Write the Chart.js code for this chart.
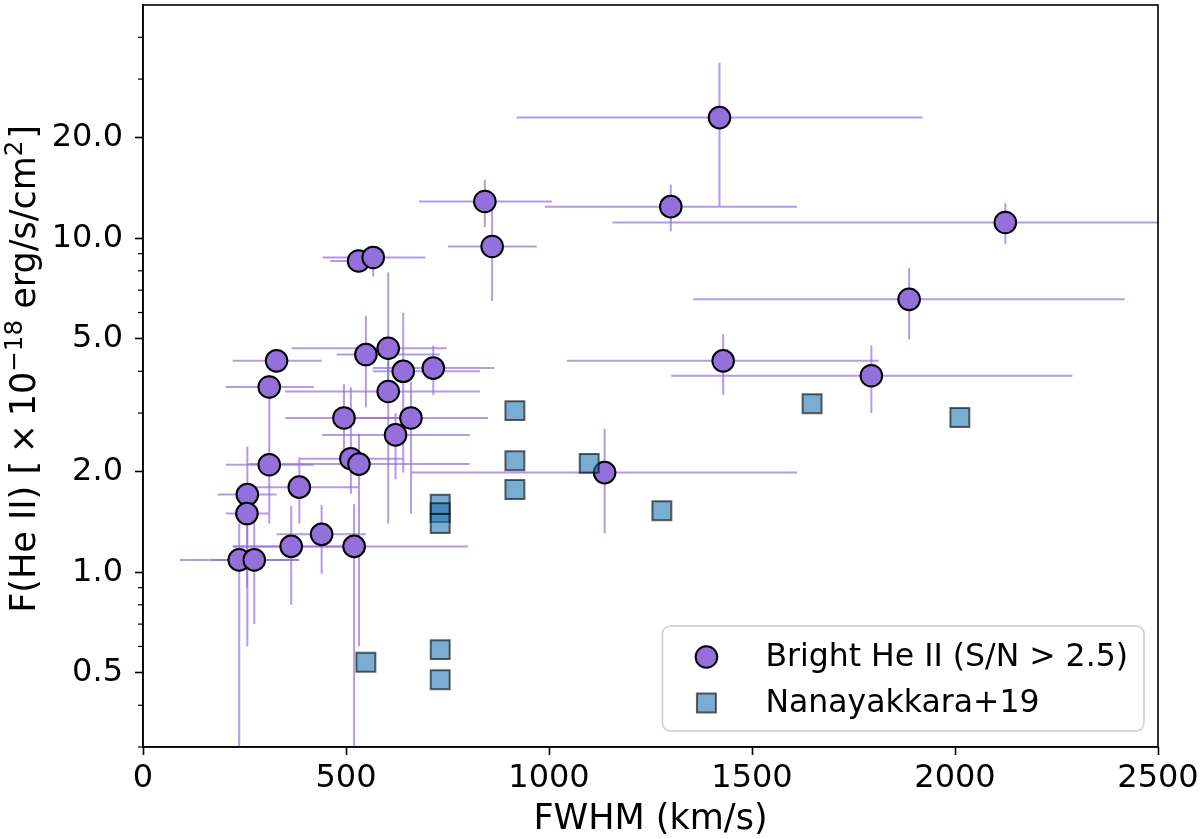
<!DOCTYPE html>
<html>
<head>
<meta charset="utf-8">
<script src="https://cdn.jsdelivr.net/npm/chart.js@4.4.1/dist/chart.umd.min.js"></script>
<style>
html,body{margin:0;padding:0;background:#ffffff;}
#wrap{width:1200px;height:839px;position:relative;}
</style>
</head>
<body>
<div id="wrap"><canvas id="c" width="1200" height="839"></canvas></div>
<script>
// ---- Data: Bright He II (S/N > 2.5) ----
const brightFwhm   = [1420, 842, 860, 1300, 2124, 1887, 1429, 1794, 1137, 531, 567, 329, 311, 311, 549, 604, 641, 604, 715, 495, 660, 622, 512, 532, 257, 385, 256, 237, 274, 365, 440, 520];
const brightFlux   = [23.0, 12.9, 9.46, 12.45, 11.16, 6.57, 4.30, 3.88, 1.99, 8.56, 8.77, 4.30, 3.59, 2.10, 4.49, 4.69, 4.00, 3.48, 4.09, 2.90, 2.90, 2.58, 2.19, 2.11, 1.71, 1.80, 1.50, 1.09, 1.09, 1.196, 1.30, 1.196];
const brightFwhmLo = [920, 680, 751, 990, 1156, 1355, 1044, 1301, 662, 461, 442, 221, 204, 204, 477, 366, 566, 350, 566, 350, 470, 441, 387, 260, 184, 276, 204, 91, 167, 221, 329, 222];
const brightFwhmHi = [1920, 1007, 970, 1611, 3090, 2418, 1812, 2289, 1611, 559, 696, 440, 421, 421, 731, 748, 830, 830, 865, 640, 850, 805, 640, 805, 329, 530, 309, 383, 385, 509, 549, 800];
const brightFluxLo = [12.5, 10.8, 6.5, 10.5, 9.62, 4.98, 3.40, 3.00, 1.31, 8.23, 7.70, 4.05, 3.30, 1.40, 3.12, 3.27, 1.99, 1.40, 3.40, 2.20, 1.50, 1.90, 1.72, 0.60, 0.60, 1.40, 0.90, 0.20, 0.70, 0.80, 0.99, 0.20];
const brightFluxHi = [33.6, 15.0, 12.3, 14.5, 12.76, 8.15, 5.17, 4.78, 2.69, 8.88, 9.46, 4.55, 3.90, 3.59, 5.87, 7.91, 5.99, 4.61, 4.77, 3.66, 3.71, 3.00, 3.58, 2.60, 2.38, 2.21, 1.75, 1.40, 1.50, 1.58, 1.59, 1.60];

// ---- Data: Nanayakkara+19 ----
const nanaFwhm = [916, 916, 916, 1099, 1278, 1648, 2012, 732, 732, 732, 549, 732, 732];
const nanaFlux = [3.05, 2.16, 1.77, 2.12, 1.53, 3.20, 2.91, 1.60, 1.51, 1.40, 0.538, 0.587, 0.477];

// ---- Axes / labels ----
const xTickValues = [0, 500, 1000, 1500, 2000, 2500];
const yTickValues = [0.3, 0.4, 0.5, 0.6, 0.7, 0.8, 0.9, 1, 2, 3, 4, 5, 6, 7, 8, 9, 10, 20, 30, 40];
const yLabeledTicks = [0.5, 1, 2, 5, 10, 20];
const seriesLabels = ['Bright He II (S/N > 2.5)', 'Nanayakkara+19'];
const xTitle = 'FWHM (km/s)';
// y title pieces: [text, isSuperscript, extra spacing (em) before]
const yTitleParts = [['F(He II) [', false, 0], ['×', false, 0.22], ['10', false, 0.22], ['−18', true, 0], [' erg/s/cm', false, 0], ['2', true, 0], [']', false, 0.05]];

const FONT = 'DejaVu Sans';
const purple = 'rgb(147,112,219)';
const errColor = 'rgba(147,112,219,0.7)';
const blueFill = 'rgba(31,119,180,0.6)';
const blueEdge = 'rgba(0,0,0,0.6)';

const errorBarPlugin = {
  id: 'errbars',
  beforeDatasetDraw(chart, args) {
    if (args.index !== 1) return;
    const {ctx, chartArea: a} = chart;
    const x = chart.scales.x, y = chart.scales.y;
    ctx.save();
    ctx.beginPath();
    ctx.rect(a.left, a.top, a.right - a.left, a.bottom - a.top);
    ctx.clip();
    ctx.strokeStyle = errColor;
    ctx.lineWidth = 2;
    for (let i = 0; i < brightFwhm.length; i++) {
      const py = y.getPixelForValue(brightFlux[i]);
      ctx.beginPath();
      ctx.moveTo(x.getPixelForValue(brightFwhmLo[i]), py);
      ctx.lineTo(x.getPixelForValue(brightFwhmHi[i]), py);
      ctx.stroke();
    }
    for (let i = 0; i < brightFwhm.length; i++) {
      const px = x.getPixelForValue(brightFwhm[i]);
      ctx.beginPath();
      ctx.moveTo(px, y.getPixelForValue(brightFluxLo[i]));
      ctx.lineTo(px, y.getPixelForValue(brightFluxHi[i]));
      ctx.stroke();
    }
    ctx.restore();
  }
};

const framePlugin = {
  id: 'frame',
  afterDraw(chart) {
    const {ctx, chartArea: a} = chart;
    const y = chart.scales.y;
    ctx.save();
    // minor ticks on y
    ctx.strokeStyle = '#000';
    ctx.lineWidth = 1.2;
    yTickValues.forEach(v => {
      if (yLabeledTicks.includes(v)) return;
      const py = y.getPixelForValue(v);
      ctx.beginPath();
      ctx.moveTo(a.left - 5, py);
      ctx.lineTo(a.left, py);
      ctx.stroke();
    });
    // frame
    ctx.lineWidth = 1.6;
    ctx.strokeRect(a.left, a.top, a.right - a.left, a.bottom - a.top);

    // y title with superscripts
    const base = 35, supSize = base * 0.7, raise = 13;
    let total = 0;
    const widths = yTitleParts.map(([t, sup, sp]) => {
      ctx.font = (sup ? supSize : base) + 'px "' + FONT + '"';
      const w = ctx.measureText(t).width + sp * base;
      total += w;
      return w;
    });
    ctx.save();
    ctx.translate(35, (a.top + a.bottom) / 2 - 7);
    ctx.rotate(-Math.PI / 2);
    ctx.fillStyle = '#000';
    ctx.textBaseline = 'alphabetic';
    ctx.textAlign = 'left';
    let cx = -total / 2;
    yTitleParts.forEach(([t, sup, sp], i) => {
      ctx.font = (sup ? supSize : base) + 'px "' + FONT + '"';
      ctx.fillText(t, cx + sp * base, sup ? -raise : 0);
      cx += widths[i];
    });
    ctx.restore();

    // legend
    const fontPx = 31.5;
    ctx.font = fontPx + 'px "' + FONT + '"';
    const textW = Math.max(...seriesLabels.map(t => ctx.measureText(t).width));
    const boxW = 44 + 59 + textW + 16;
    const boxH = 105;
    const bx = a.right - 14 - boxW;
    const by = a.bottom - 16 - boxH;
    ctx.beginPath();
    if (ctx.roundRect) ctx.roundRect(bx, by, boxW, boxH, 8); else ctx.rect(bx, by, boxW, boxH);
    ctx.fillStyle = 'rgba(255,255,255,0.8)';
    ctx.fill();
    ctx.strokeStyle = 'rgb(204,204,204)';
    ctx.lineWidth = 1.5;
    ctx.stroke();
    const mx = bx + 44;
    const row1 = by + 31, row2 = by + 77;
    ctx.beginPath();
    ctx.arc(mx, row1, 10.8, 0, Math.PI * 2);
    ctx.fillStyle = purple; ctx.fill();
    ctx.strokeStyle = '#000'; ctx.lineWidth = 2; ctx.stroke();
    ctx.beginPath();
    ctx.rect(mx - 9.5, row2 - 9.5, 19, 19);
    ctx.fillStyle = blueFill; ctx.fill();
    ctx.strokeStyle = blueEdge; ctx.lineWidth = 2; ctx.stroke();
    ctx.fillStyle = '#000';
    ctx.textBaseline = 'middle';
    ctx.textAlign = 'left';
    ctx.fillText(seriesLabels[0], mx + 59, row1 + 1);
    ctx.fillText(seriesLabels[1], mx + 59, row2 + 1);
    ctx.restore();
  }
};

const ctx = document.getElementById('c').getContext('2d');
new Chart(ctx, {
  type: 'scatter',
  data: {
    datasets: [
      {
        label: seriesLabels[1],
        data: nanaFwhm.map((v, i) => ({x: v, y: nanaFlux[i]})),
        pointStyle: 'rect',
        pointRadius: 13.4,
        pointHoverRadius: 13.4,
        backgroundColor: blueFill,
        borderColor: blueEdge,
        borderWidth: 2,
        pointBorderWidth: 2
      },
      {
        label: seriesLabels[0],
        data: brightFwhm.map((v, i) => ({x: v, y: brightFlux[i]})),
        pointStyle: 'circle',
        pointRadius: 10.8,
        pointHoverRadius: 10.8,
        backgroundColor: purple,
        borderColor: '#000',
        borderWidth: 2,
        pointBorderWidth: 2
      }
    ]
  },
  options: {
    responsive: false,
    animation: false,
    devicePixelRatio: 1,
    layout: {autoPadding: false, padding: {top: 5, right: 42, left: 0, bottom: 0}},
    plugins: {legend: {display: false}, tooltip: {enabled: false}},
    scales: {
      x: {
        type: 'linear',
        min: 0, max: 2500,
        afterBuildTicks: (axis) => { axis.ticks = xTickValues.map(v => ({value: v})); },
        afterFit: (scale) => { scale.height = 92; scale.paddingLeft = 0; scale.paddingRight = 0; },
        grid: {display: true, drawOnChartArea: false, tickLength: 8, tickColor: '#000', tickWidth: 1.6},
        border: {display: true, color: '#000', width: 1.6},
        ticks: {color: '#000', font: {family: FONT, size: 32}, padding: 4, maxRotation: 0, autoSkip: false,
          callback: (v) => String(v)},
        title: {display: true, text: xTitle, color: '#000', font: {family: FONT, size: 35, lineHeight: 1.0}, padding: {top: 0, bottom: 1.5}}
      },
      y: {
        type: 'logarithmic',
        min: 0.3, max: 50,
        afterBuildTicks: (axis) => { axis.ticks = yTickValues.map(v => ({value: v})); },
        afterFit: (scale) => { scale.width = 143; scale.paddingTop = 0; scale.paddingBottom = 0; },
        grid: {display: true, drawOnChartArea: false, tickLength: 8, tickWidth: 1.6,
          tickColor: (c) => (c.tick && yLabeledTicks.includes(c.tick.value)) ? '#000' : 'rgba(0,0,0,0)'},
        border: {display: true, color: '#000', width: 1.6},
        ticks: {color: '#000', font: {family: FONT, size: 32}, padding: 12, autoSkip: false,
          callback: (v) => yLabeledTicks.includes(v) ? Number(v).toFixed(1) : ''},
        title: {display: false}
      }
    }
  },
  plugins: [errorBarPlugin, framePlugin]
});
</script>
</body>
</html>
